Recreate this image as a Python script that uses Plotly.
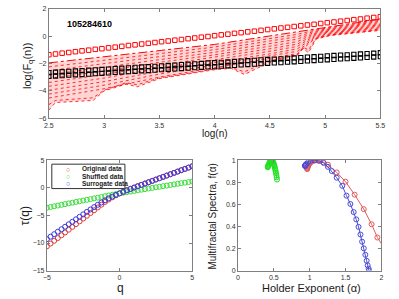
import plotly.graph_objects as go

# ---------------- top panel: fluctuation functions ----------------
log_n = [2.50, 2.56, 2.62, 2.68, 2.74, 2.80, 2.86, 2.92, 2.98, 3.04,
         3.10, 3.16, 3.22, 3.28, 3.34, 3.40, 3.46, 3.52, 3.58, 3.64,
         3.70, 3.76, 3.82, 3.88, 3.94, 4.00, 4.06, 4.12, 4.18, 4.24,
         4.30, 4.36, 4.42, 4.48, 4.54, 4.60, 4.66, 4.72, 4.78, 4.84,
         4.90, 4.96, 5.02, 5.08, 5.14, 5.20, 5.26, 5.32, 5.38, 5.44, 5.50]
fq_q5 = [-1.35, -1.30, -1.24, -1.19, -1.13, -1.07, -1.02, -0.96, -0.91, -0.85,
         -0.80, -0.74, -0.68, -0.63, -0.57, -0.52, -0.46, -0.40, -0.35, -0.29,
         -0.24, -0.18, -0.13, -0.07, -0.02, 0.04, 0.10, 0.15, 0.21, 0.26,
         0.32, 0.37, 0.43, 0.49, 0.54, 0.60, 0.65, 0.71, 0.76, 0.82,
         0.87, 0.93, 0.99, 1.04, 1.10, 1.15, 1.21, 1.26, 1.32, 1.37, 1.43]
fq_shuf_hi = [-2.66, -2.63, -2.60, -2.57, -2.54, -2.52, -2.49, -2.46, -2.43, -2.40,
              -2.37, -2.34, -2.31, -2.28, -2.25, -2.23, -2.20, -2.17, -2.14, -2.11,
              -2.08, -2.05, -2.02, -1.99, -1.96, -1.94, -1.91, -1.88, -1.85, -1.82,
              -1.79, -1.76, -1.73, -1.70, -1.67, -1.65, -1.62, -1.59, -1.56, -1.53,
              -1.50, -1.47, -1.44, -1.41, -1.38, -1.36, -1.33, -1.30, -1.27, -1.24, -1.21]
fq_shuf_lo = [-2.94, -2.91, -2.88, -2.85, -2.82, -2.80, -2.77, -2.74, -2.71, -2.68,
              -2.65, -2.62, -2.59, -2.56, -2.53, -2.51, -2.48, -2.45, -2.42, -2.39,
              -2.36, -2.33, -2.30, -2.27, -2.24, -2.22, -2.19, -2.16, -2.13, -2.10,
              -2.07, -2.04, -2.01, -1.98, -1.95, -1.93, -1.90, -1.87, -1.84, -1.81,
              -1.78, -1.75, -1.72, -1.69, -1.66, -1.64, -1.61, -1.58, -1.55, -1.52, -1.49]

log_n_band = [2.5, 3.0, 3.5, 4.0, 4.5, 4.75, 4.9, 5.0, 5.5]
fq_q4 = [-1.95, -1.50, -1.05, -0.60, 0.02, 0.32, 0.51, 0.64, 1.25]
fq_q3 = [-2.24, -1.76, -1.27, -0.79, -0.17, 0.14, 0.43, 0.58, 1.17]
fq_q2 = [-2.52, -2.02, -1.48, -0.98, -0.35, -0.03, 0.35, 0.51, 1.09]
fq_q1 = [-2.81, -2.28, -1.70, -1.17, -0.54, -0.21, 0.27, 0.45, 1.01]
fq_q0 = [-3.09, -2.54, -1.91, -1.36, -0.73, -0.39, 0.19, 0.38, 0.93]
fq_qm1 = [-3.38, -2.80, -2.13, -1.55, -0.92, -0.57, 0.11, 0.32, 0.85]
fq_qm2 = [-3.66, -3.06, -2.34, -1.74, -1.10, -0.74, 0.02, 0.26, 0.77]
fq_qm3 = [-3.95, -3.32, -2.56, -1.93, -1.29, -0.92, -0.06, 0.19, 0.69]
fq_qm35 = [-4.23, -3.58, -2.77, -2.12, -1.48, -1.10, -0.14, 0.13, 0.61]
fq_qm4 = [-4.52, -3.84, -2.99, -2.31, -1.66, -1.27, -0.22, 0.06, 0.53]

log_n_low = [2.5, 2.56, 2.9, 3.0, 3.2, 3.3, 3.5, 4.0, 4.15, 4.27, 4.5, 4.75, 4.8, 4.85, 4.92, 5.05, 5.5]
fq_qm45 = [-5.0, -4.7, -4.5, -3.95, -3.4, -3.55, -3.05, -2.4, -2.3, -2.6, -1.8, -1.35, -0.8, -1.0, -0.15, 0.1, 0.47]
fq_qm5 = [-5.4, -4.85, -4.7, -4.0, -3.5, -3.7, -3.1, -2.45, -2.35, -2.8, -1.9, -1.4, -0.9, -1.2, -0.2, 0.05, 0.43]

# ---------------- bottom left: tau(q) ----------------
q_vals = [-5, -4.75, -4.5, -4.25, -4, -3.75, -3.5, -3.25, -3, -2.75, -2.5, -2.25, -2, -1.75,
          -1.5, -1.25, -1, -0.75, -0.5, -0.25, 0, 0.25, 0.5, 0.75, 1, 1.25, 1.5, 1.75, 2,
          2.25, 2.5, 2.75, 3, 3.25, 3.5, 3.75, 4, 4.25, 4.5, 4.75, 5]
tau_orig = [-10.60, -10.10, -9.60, -9.10, -8.60, -8.09, -7.59, -7.08, -6.58, -6.07, -5.57,
            -5.06, -4.56, -4.06, -3.56, -3.05, -2.55, -2.12, -1.72, -1.35, -1.00, -0.69,
            -0.41, -0.16, 0.07, 0.31, 0.56, 0.80, 1.04, 1.28, 1.52, 1.76, 2.00, 2.24, 2.48,
            2.72, 2.96, 3.20, 3.43, 3.67, 3.90]
tau_shuf = [-3.60, -3.47, -3.34, -3.21, -3.08, -2.95, -2.82, -2.69, -2.56, -2.43, -2.30,
            -2.17, -2.04, -1.91, -1.78, -1.65, -1.52, -1.39, -1.26, -1.13, -1.00, -0.89,
            -0.78, -0.67, -0.56, -0.45, -0.34, -0.23, -0.12, -0.01, 0.10, 0.20, 0.31, 0.41,
            0.52, 0.63, 0.73, 0.84, 0.94, 1.05, 1.15]
tau_surr = [-9.30, -8.85, -8.40, -7.95, -7.50, -7.05, -6.60, -6.15, -5.70, -5.25, -4.80,
            -4.36, -3.92, -3.49, -3.07, -2.66, -2.26, -1.90, -1.58, -1.28, -1.00, -0.73,
            -0.47, -0.22, 0.03, 0.27, 0.51, 0.76, 1.00, 1.25, 1.49, 1.73, 1.98, 2.22, 2.46,
            2.71, 2.95, 3.19, 3.43, 3.67, 3.91]

# ---------------- bottom right: multifractal spectra ----------------
alpha_orig = [2.35, 2.20, 2.07, 1.945, 1.864, 1.755, 1.627, 1.50, 1.377, 1.255, 1.19, 1.15,
              1.12, 1.10, 1.08, 1.06, 1.04, 1.02, 1.005, 0.99, 0.98, 0.975, 0.97, 0.968,
              0.966, 0.965]
f_orig = [-0.10, 0.05, 0.17, 0.30, 0.42, 0.557, 0.688, 0.806, 0.89, 0.96, 0.982, 0.993,
          0.998, 1.0, 1.0, 0.998, 0.993, 0.985, 0.975, 0.962, 0.952, 0.945, 0.937, 0.93,
          0.925, 0.92]
alpha_shuf = [0.545, 0.54, 0.535, 0.53, 0.525, 0.52, 0.515, 0.51, 0.505, 0.50, 0.495, 0.49,
              0.485, 0.48, 0.475, 0.47, 0.465, 0.46, 0.455, 0.45, 0.445, 0.44, 0.435, 0.43,
              0.425, 0.42, 0.418, 0.416, 0.415]
f_shuf = [0.825, 0.845, 0.865, 0.885, 0.90, 0.915, 0.93, 0.945, 0.955, 0.965, 0.975, 0.983,
          0.99, 0.995, 0.998, 1.0, 1.0, 0.998, 0.995, 0.99, 0.985, 0.978, 0.97, 0.962,
          0.955, 0.948, 0.944, 0.94, 0.937]
alpha_surr = [1.827, 1.823, 1.809, 1.795, 1.777, 1.755, 1.732, 1.709, 1.682, 1.650, 1.614,
              1.568, 1.514, 1.455, 1.377, 1.309, 1.255, 1.195, 1.127, 1.068, 1.014, 0.977,
              0.955, 0.945, 0.94, 0.937, 0.935, 0.935]
f_surr = [0.0, 0.018, 0.048, 0.089, 0.143, 0.202, 0.262, 0.327, 0.396, 0.464, 0.530, 0.604,
          0.679, 0.768, 0.842, 0.902, 0.94, 0.976, 0.997, 1.0, 0.997, 0.982, 0.968, 0.96,
          0.955, 0.952, 0.95, 0.948]

RED = "#ff0000"
PINK = "rgba(255,0,0,0.16)"
FONT = "Liberation Sans, Arial, sans-serif"

fig = go.Figure()

# band of fluctuation functions (q = 4 ... -5), dotted with light fill between
fig.add_trace(go.Scatter(x=log_n_band, y=fq_q4, mode="lines",
                         line=dict(color=RED, width=1, dash="dashdot"),
                         xaxis="x", yaxis="y", showlegend=False))
band_lines = [fq_q3, fq_q2, fq_q1, fq_q0, fq_qm1, fq_qm2, fq_qm3, fq_qm35, fq_qm4]
for ys in band_lines:
    fig.add_trace(go.Scatter(x=log_n_band, y=ys, mode="lines", fill="tonexty",
                             fillcolor=PINK,
                             line=dict(color=RED, width=0.8, dash="dot"),
                             xaxis="x", yaxis="y", showlegend=False))
for ys in [fq_qm45, fq_qm5]:
    fig.add_trace(go.Scatter(x=log_n_low, y=ys, mode="lines", fill="tonexty",
                             fillcolor=PINK,
                             line=dict(color=RED, width=0.8, dash="dot"),
                             xaxis="x", yaxis="y", showlegend=False))
fig.add_trace(go.Scatter(x=log_n, y=fq_q5, mode="markers",
                         marker=dict(symbol="square-open", size=4.5, color=RED,
                                     line=dict(width=1, color=RED)),
                         xaxis="x", yaxis="y", showlegend=False))
for ys in [fq_shuf_hi, fq_shuf_lo]:
    fig.add_trace(go.Scatter(x=log_n, y=ys, mode="markers",
                             marker=dict(symbol="square-open", size=4.2, color="black",
                                         line=dict(width=1.1, color="black")),
                             xaxis="x", yaxis="y", showlegend=False))

# tau(q)
for ys, col in [(tau_orig, "#e03a3a"), (tau_shuf, "#3ddc3d"), (tau_surr, "#3a3ae0")]:
    fig.add_trace(go.Scatter(x=q_vals, y=ys, mode="markers",
                             marker=dict(symbol="circle-open", size=5, color=col,
                                         line=dict(width=1, color=col)),
                             xaxis="x2", yaxis="y2", showlegend=False))

# spectra
for xs, ys, col in [(alpha_orig, f_orig, "#e05a5a"), (alpha_shuf, f_shuf, "#22e022"),
                    (alpha_surr, f_surr, "#4a4ad8")]:
    fig.add_trace(go.Scatter(x=xs, y=ys, mode="lines+markers",
                             line=dict(color=col, width=1),
                             marker=dict(symbol="circle-open", size=5, color=col,
                                         line=dict(width=1, color=col)),
                             xaxis="x3", yaxis="y3", showlegend=False))

axis_common = dict(showgrid=False, zeroline=False, showline=True, linecolor="#7f7f7f",
                   linewidth=1, mirror="ticks", ticks="inside", ticklen=3,
                   tickcolor="#7f7f7f", tickfont=dict(size=7, color="#333333", family=FONT))

H = 299.0
W = 399.0
fig.update_layout(
    width=399, height=299,
    margin=dict(l=0, r=0, t=0, b=0),
    paper_bgcolor="white", plot_bgcolor="white",
    font=dict(family=FONT),
    xaxis=dict(domain=[45 / W, 385 / W], range=[2.5, 5.5], tickvals=[2.5, 3, 3.5, 4, 4.5, 5, 5.5],
               anchor="y", **axis_common),
    yaxis=dict(domain=[(H - 117) / H, (H - 5) / H], range=[-6, 2], tickvals=[-6, -4, -2, 0, 2],
               anchor="x", **axis_common),
    xaxis2=dict(domain=[43 / W, 192 / W], range=[-5, 5], tickvals=[-5, 0, 5],
                anchor="y2", **axis_common),
    yaxis2=dict(domain=[(H - 273) / H, (H - 160) / H], range=[-15, 5],
                tickvals=[-15, -10, -5, 0, 5], anchor="x2", **axis_common),
    xaxis3=dict(domain=[239 / W, 386 / W], range=[0, 2], tickvals=[0, 0.5, 1, 1.5, 2],
                anchor="y3", **axis_common),
    yaxis3=dict(domain=[(H - 273) / H, (H - 160) / H], range=[0, 1],
                tickvals=[0, 0.2, 0.4, 0.6, 0.8, 1], anchor="x3", **axis_common),
    showlegend=False,
)

def ann(text, x, y, size, angle=0, xanchor="center", color="#1a1a1a"):
    fig.add_annotation(text=text, x=x / W, y=(H - y) / H, xref="paper", yref="paper",
                       showarrow=False, textangle=angle, xanchor=xanchor, yanchor="middle",
                       font=dict(size=size, color=color, family=FONT))

ann("<b>105284610</b>", 62, 20, 9, xanchor="left", color="black")
ann("log(n)", 215, 133, 10)
ann("log(F<sub>q</sub>(n))", 23, 63, 11, angle=-90)
ann("τ(q)", 20, 217, 12, angle=-90)
ann("q", 118, 291, 12)
ann("Multifractal Spectra, f(α)", 213, 218, 10, angle=-90)
ann("Holder Exponent (α)", 314, 291, 11)

# legend box
fig.add_shape(type="rect", xref="paper", yref="paper", x0=48 / W, x1=123 / W,
              y0=(H - 189) / H, y1=(H - 164) / H, line=dict(color="#333333", width=1),
              fillcolor="white", layer="above")
for label, col, yy in [("Original data", "#e03a3a", 169), ("Shuffled data", "#3ddc3d", 177),
                       ("Surrogate data", "#3a3ae0", 184)]:
    ann("○", 65, yy, 7, color=col)
    ann("<b>" + label + "</b>", 77, yy, 6.5, xanchor="left", color="#222222")

fig.write_html("out.html", config={"displayModeBar": False},
               post_script="document.body.style.margin='0';")
